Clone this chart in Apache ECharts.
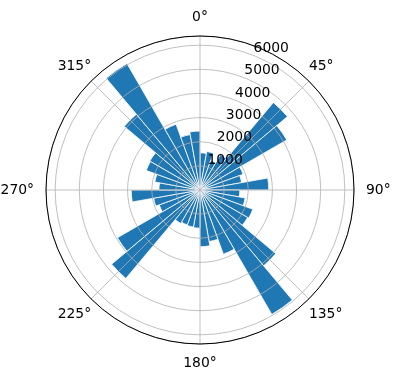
<!DOCTYPE html>
<html>
<head>
    <meta charset="utf-8">
    <title>ECharts</title>
    <script type="text/javascript" src="https://cdn.jsdelivr.net/npm/echarts@6/dist/echarts.min.js"></script>
    <style>
        html, body { margin: 0; padding: 0; background: #fff; }
    </style>
</head>
<body>
<div id="main" style="width: 396px;height:380px;"></div>
<script type="text/javascript">
    // 36 sectors of 10 degrees, clockwise from north
    var sectors = [];
    for (var i = 0; i < 36; i++) { sectors.push(i * 10); }
    var counts = [1540, 1620, 1300, 1700, 4730, 4150, 1900, 1750, 2850,
                  1650, 1900, 2330, 2280, 4100, 5950, 2830, 2170, 2350,
                  1580, 1560, 1540, 1600, 4780, 3950, 1800, 1950, 2850,
                  1700, 1900, 2370, 2400, 4100, 6050, 2900, 2330, 2440];
    var angleTicks = [0, 45, 90, 135, 180, 225, 270, 315];
    var radiusTicks = [1000, 2000, 3000, 4000, 5000, 6000];
    var rMax = 6380;

    var myChart = echarts.init(document.getElementById('main'));
    var center = [200, 190];
    var radius = 154;
    var font = 'DejaVu Sans';

    // label padding so every angle label sits at about the same distance
    var txt = { color: '#000', fontSize: 13.9, fontFamily: font };
    var rich = {
        n: Object.assign({ padding: [0, 0, 12, 0] }, txt),
        s: Object.assign({ padding: [12, 0, 0, 0] }, txt),
        e: Object.assign({ padding: [0, 0, 0, 12] }, txt),
        w: Object.assign({ padding: [0, 12, 0, 0] }, txt),
        up: Object.assign({ padding: [0, 0, 8, 0] }, txt),
        dn: Object.assign({ padding: [8, 0, 0, 0] }, txt)
    };
    var styleOf = { 0: 'n', 45: 'up', 90: 'e', 135: 'dn', 180: 's', 225: 'dn', 270: 'w', 315: 'up' };

    var option = {
        backgroundColor: '#fff',
        animation: false,
        polar: [
            { center: center, radius: radius },
            { center: center, radius: radius },
            { center: center, radius: radius }
        ],
        angleAxis: [
            {
                polarIndex: 0, type: 'value', min: 0, max: 360, interval: 45,
                startAngle: 90, clockwise: true, z: 5,
                axisLine: { lineStyle: { color: '#000', width: 1 } },
                axisTick: { show: false },
                splitLine: { lineStyle: { color: '#b0b0b0', width: 0.8 } },
                axisLabel: {
                    margin: 0, color: '#000', fontSize: 13.9, fontFamily: font,
                    rich: rich,
                    formatter: function (v) {
                        if (angleTicks.indexOf(v) < 0) return '';
                        return '{' + styleOf[v] + '|' + v + '°}';
                    }
                }
            },
            {
                polarIndex: 1, type: 'category', data: sectors,
                startAngle: 90, clockwise: true, boundaryGap: true,
                axisLine: { show: false }, axisTick: { show: false },
                axisLabel: { show: false }, splitLine: { show: false }
            },
            {
                polarIndex: 2, type: 'value', min: 0, max: 360,
                startAngle: 67.5, clockwise: true,
                axisLine: { show: false }, axisTick: { show: false },
                axisLabel: { show: false }, splitLine: { show: false }
            }
        ],
        radiusAxis: [
            {
                polarIndex: 0, type: 'value', min: 0, max: rMax, interval: 1000, z: 5,
                axisLine: { show: false }, axisTick: { show: false },
                axisLabel: { show: false },
                splitLine: { lineStyle: { color: '#b0b0b0', width: 0.8 } }
            },
            {
                polarIndex: 1, type: 'value', min: 0, max: rMax,
                axisLine: { show: false }, axisTick: { show: false },
                axisLabel: { show: false }, splitLine: { show: false }
            },
            {
                polarIndex: 2, type: 'value', min: 0, max: rMax, interval: 1000,
                axisLine: { show: false }, axisTick: { show: false },
                splitLine: { show: false },
                z: 10,
                axisLabel: {
                    color: '#000', fontSize: 13.9, fontFamily: font,
                    align: 'left', verticalAlign: 'bottom', margin: 2,
                    formatter: function (v) { return radiusTicks.indexOf(v) >= 0 ? String(v) : ''; }
                }
            }
        ],
        series: [{
            type: 'bar',
            coordinateSystem: 'polar',
            polarIndex: 1,
            data: counts,
            barCategoryGap: '0%',
            itemStyle: { color: '#1f77b4', borderColor: '#fff', borderWidth: 0.8 },
            z: 1
        }]
    };

    myChart.setOption(option);
</script>
</body>
</html>
